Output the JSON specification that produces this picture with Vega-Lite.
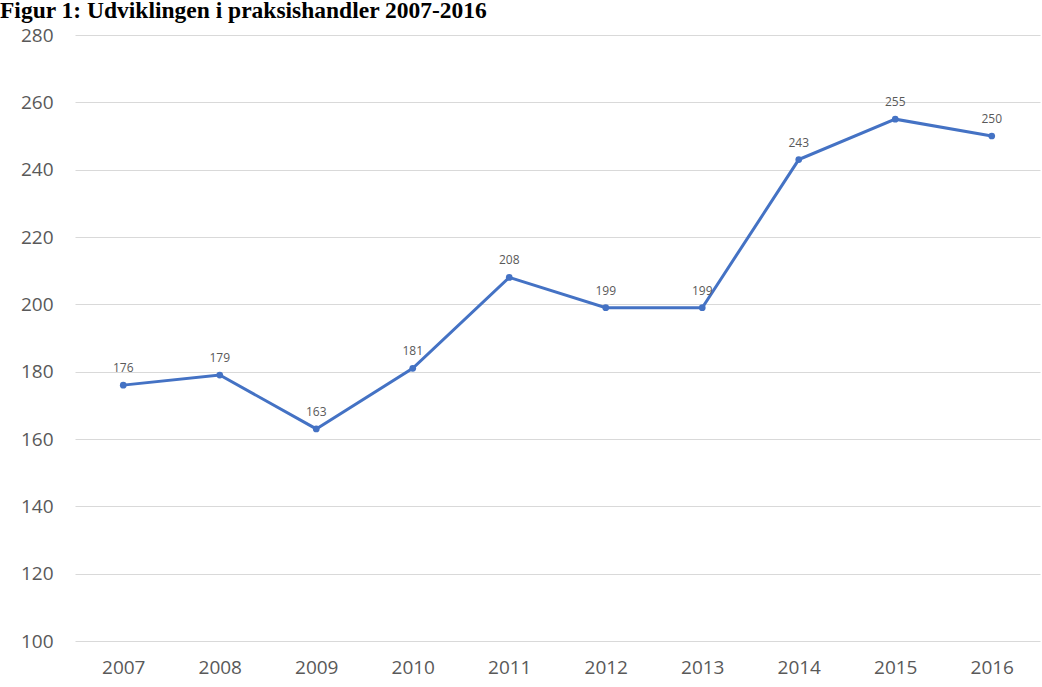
{
  "$schema": "https://vega.github.io/schema/vega-lite/v6.json",
  "autosize": "none",
  "width": 965,
  "height": 606,
  "padding": {"left": 75, "top": 35, "right": 2, "bottom": 46},
  "background": "white",
  "title": {
    "text": "Figur 1: Udviklingen i praksishandler 2007-2016",
    "anchor": "start",
    "frame": "group",
    "dx": -75,
    "dy": 17,
    "offset": 2,
    "baseline": "alphabetic",
    "font": "Liberation Serif",
    "fontSize": 23.5,
    "fontWeight": "bold",
    "color": "black"
  },
  "data": {
    "values": [
      {"year": "2007", "value": 176},
      {"year": "2008", "value": 179},
      {"year": "2009", "value": 163},
      {"year": "2010", "value": 181},
      {"year": "2011", "value": 208},
      {"year": "2012", "value": 199},
      {"year": "2013", "value": 199},
      {"year": "2014", "value": 243},
      {"year": "2015", "value": 255},
      {"year": "2016", "value": 250}
    ]
  },
  "config": {
    "view": {"stroke": null},
    "axis": {
      "labelFont": "Open Sans",
      "labelColor": "#595959",
      "labelFontSize": 19,
      "ticks": false,
      "domain": false,
      "title": null,
      "gridColor": "#d9d9d9",
      "gridWidth": 1
    }
  },
  "encoding": {
    "x": {
      "field": "year",
      "type": "ordinal",
      "scale": {"type": "point", "padding": 0.5},
      "axis": {"labelAngle": 0, "grid": false, "labelPadding": 17}
    },
    "y": {
      "field": "value",
      "type": "quantitative",
      "scale": {"domain": [100, 280], "nice": false, "zero": false},
      "axis": {"values": [100, 120, 140, 160, 180, 200, 220, 240, 260, 280], "labelPadding": 22, "grid": true}
    }
  },
  "layer": [
    {
      "mark": {"type": "line", "color": "#4472C4", "strokeWidth": 3},
      "encoding": {}
    },
    {
      "mark": {"type": "circle", "color": "#4472C4", "size": 45, "opacity": 1},
      "encoding": {}
    },
    {
      "mark": {"type": "text", "dy": -17, "fontSize": 12, "font": "Open Sans", "color": "#595959"},
      "encoding": {"text": {"field": "value", "type": "quantitative"}}
    }
  ]
}
